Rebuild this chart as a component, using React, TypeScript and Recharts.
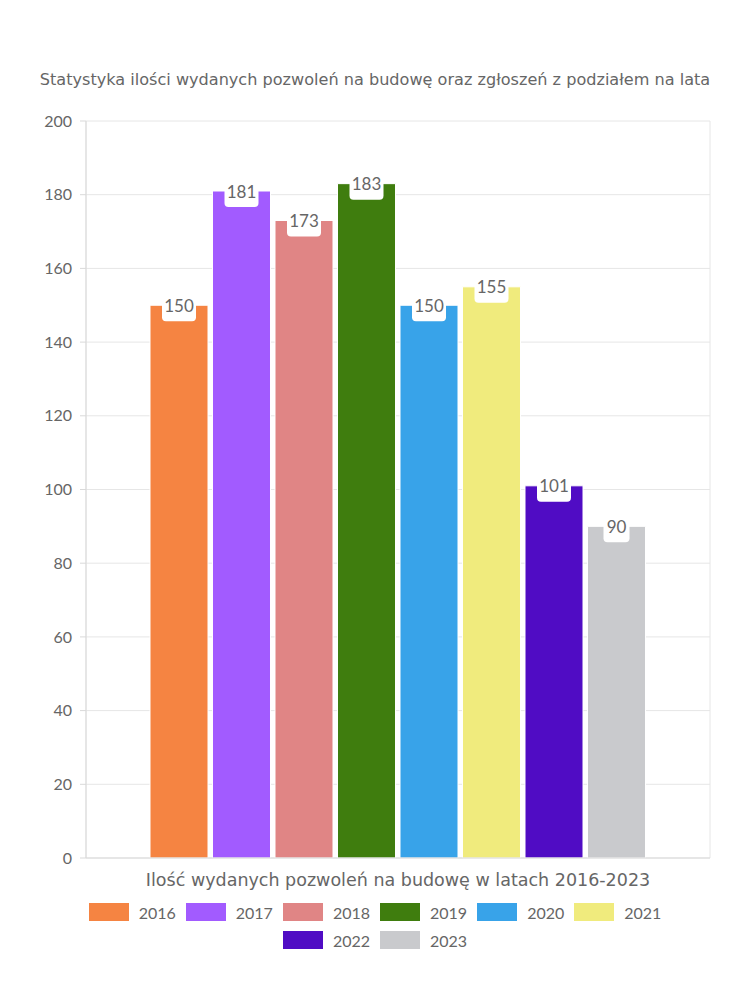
import { Bar, BarChart, CartesianGrid, Legend, XAxis, YAxis } from 'recharts';

const years = ['2016', '2017', '2018', '2019', '2020', '2021', '2022', '2023'];
const counts = [150, 181, 173, 183, 150, 155, 101, 90];
const colors = ['#f58442', '#a25bff', '#e08585', '#3f7d0e', '#38a3e9', '#f0eb7d', '#500cc4', '#c9cacd'];
const category = 'Ilość wydanych pozwoleń na budowę w latach 2016-2023';
const yTicks = [0, 20, 40, 60, 80, 100, 120, 140, 160, 180, 200];
const title = 'Statystyka ilości wydanych pozwoleń na budowę oraz zgłoszeń z podziałem na lata';

const FONT = 'Lato, sans-serif';
const WIDE_FONT = '"DejaVu Sans", sans-serif';
const TEXT = '#666';

const row: Record<string, string | number> = { name: category };
years.forEach((y, i) => {
    row[y] = counts[i];
});
const data = [row];

function ValueLabel(props: any) {
    const { x, y, width, value } = props;
    const cx = x + width / 2;
    const w = String(value).length * 8 + 10;
    return (
        <g>
            <rect x={cx - w / 2} y={y - 16} width={w} height={32} rx={4} fill="#fff" />
            <text x={cx} y={y} textAnchor="middle" dominantBaseline="central" fill={TEXT} fontSize={17} fontFamily={FONT}>
                {value}
            </text>
        </g>
    );
}

function CategoryTick(props: any) {
    const { x, y, payload } = props;
    return (
        <text x={x} y={y + 14} textAnchor="middle" dominantBaseline="central" fill={TEXT} fontSize={17.5} fontFamily={WIDE_FONT}>
            {payload.value}
        </text>
    );
}

function LegendBox() {
    return (
        <div style={{ display: 'flex', flexWrap: 'wrap', justifyContent: 'center', width: 620, margin: '10px auto 0', fontFamily: FONT }}>
            {years.map((y, i) => (
                <div key={y} style={{ display: 'flex', alignItems: 'center', height: 28, margin: '0 5px' }}>
                    <span style={{ width: 40, height: 18, background: colors[i], display: 'inline-block', marginRight: 10 }} />
                    <span style={{ color: TEXT, fontSize: 16 }}>{y}</span>
                </div>
            ))}
        </div>
    );
}

export default function App() {
    return (
        <div style={{ position: 'absolute', left: 0, top: 0, width: 750, height: 1000, background: '#fff' }}>
            <div style={{ position: 'absolute', top: 70, left: 0, width: 750, textAlign: 'center', fontSize: 16.1, color: TEXT, fontFamily: WIDE_FONT }}>
                {title}
            </div>
            <BarChart width={750} height={1000} data={data} margin={{ top: 121, right: 40, left: 0, bottom: 42 }} barCategoryGap={64} barGap={4.5}>
                <CartesianGrid
                    stroke="#e6e6e6"
                    verticalCoordinatesGenerator={({ offset }: any) => [offset.left, offset.left + offset.width]}
                />
                <XAxis dataKey="name" height={30} tick={<CategoryTick />} tickLine={false} axisLine={{ stroke: '#d9d9d9' }} />
                <YAxis
                    domain={[0, 200]}
                    ticks={yTicks}
                    width={86}
                    tick={{ fill: TEXT, fontSize: 16, fontFamily: FONT }}
                    tickLine={{ stroke: '#d9d9d9' }}
                    axisLine={{ stroke: '#d9d9d9' }}
                    tickSize={6}
                    tickMargin={8}
                />
                <Legend verticalAlign="bottom" height={70} wrapperStyle={{ left: 0, width: 750 }} content={<LegendBox />} />
                {years.map((y, i) => (
                    <Bar key={y} dataKey={y} fill={colors[i]} stroke="#fff" strokeWidth={1} label={ValueLabel} isAnimationActive={false} />
                ))}
            </BarChart>
        </div>
    );
}
